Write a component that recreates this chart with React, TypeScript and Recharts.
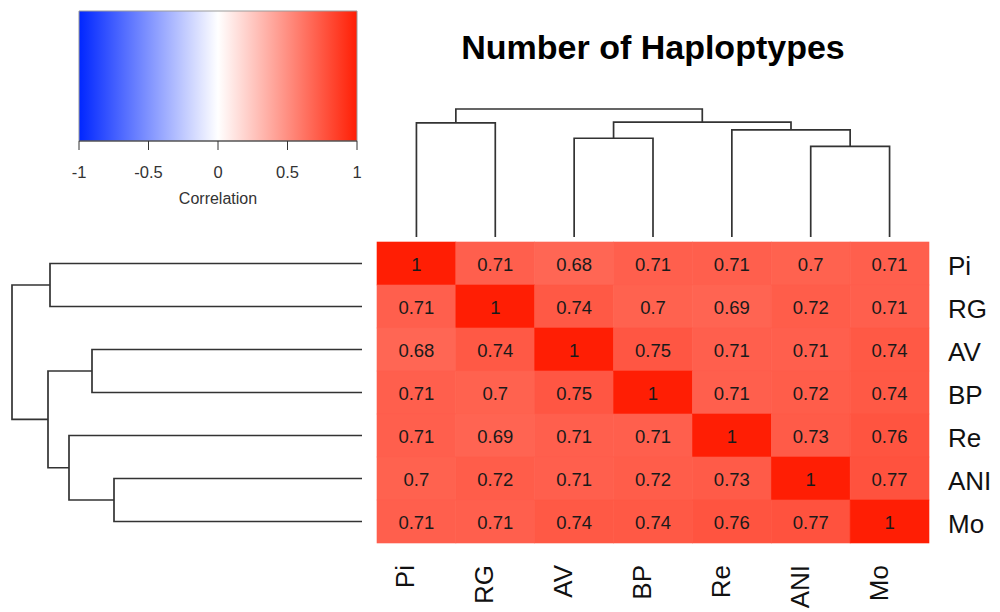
import { ScatterChart, Scatter, XAxis, YAxis, ReferenceArea } from "recharts";

const FONT = '"Liberation Sans", Arial, Helvetica, sans-serif';

const labels = ["Pi", "RG", "AV", "BP", "Re", "ANI", "Mo"];

// correlation matrix, one row per sample (same order as labels)
const corPi = [1, 0.71, 0.68, 0.71, 0.71, 0.7, 0.71];
const corRG = [0.71, 1, 0.74, 0.7, 0.69, 0.72, 0.71];
const corAV = [0.68, 0.74, 1, 0.75, 0.71, 0.71, 0.74];
const corBP = [0.71, 0.7, 0.75, 1, 0.71, 0.72, 0.74];
const corRe = [0.71, 0.69, 0.71, 0.71, 1, 0.73, 0.76];
const corANI = [0.7, 0.72, 0.71, 0.72, 0.73, 1, 0.77];
const corMo = [0.71, 0.71, 0.74, 0.74, 0.76, 0.77, 1];
const corRows = [corPi, corRG, corAV, corBP, corRe, corANI, corMo];

// hclust-style merge table: negative = leaf (1-based), positive = earlier merge step
const mergeSteps = [
  [-1, -2],
  [-3, -4],
  [-6, -7],
  [-5, 3],
  [2, 4],
  [1, 5],
];
const mergeHeights = [3.12, 2.7, 2.48, 2.93, 3.14, 3.5];

const keyTicks = [-1, -0.5, 0, 0.5, 1];

// layout
const W = 1000;
const H = 612;
const HM = { left: 377, right: 929, top: 242, bottom: 543 };
const n = labels.length;
const cellW = (HM.right - HM.left) / n;
const cellH = (HM.bottom - HM.top) / n;
const centers = labels.map((_, i) => i + 0.5);
const maxHeight = Math.max(...mergeHeights);

const LOW = [0, 38, 255];
const MID = [255, 255, 255];
const HIGH = [255, 30, 4];

function corColor(v: number) {
  const end = v < 0 ? LOW : HIGH;
  const t = Math.min(1, Math.abs(v));
  const c = MID.map((m, i) => Math.round(m + (end[i] - m) * t));
  return `rgb(${c.join(",")})`;
}

const cells = corRows.flatMap((row, r) =>
  row.map((v, c) => ({ x: c + 0.5, y: r + 0.5, v }))
);

// tick anchors for the colour key, so the chart has a domain to lay out
const keyAnchors = keyTicks.map((t) => ({ x: t, y: 0 }));

function dendroSegments() {
  const nodes: { pos: number; h: number }[] = [];
  const node = (ref: number) =>
    ref < 0 ? { pos: -ref - 0.5, h: 0 } : nodes[ref - 1];
  return mergeSteps.map(([a, b], i) => {
    const l = node(a);
    const r = node(b);
    const h = mergeHeights[i];
    nodes.push({ pos: (l.pos + r.pos) / 2, h });
    return [
      { pos: l.pos, h: l.h },
      { pos: l.pos, h },
      { pos: r.pos, h },
      { pos: r.pos, h: r.h },
    ];
  });
}

const segments = dendroSegments();

const noDot = () => <g />;
const branch = { stroke: "#333", strokeWidth: 1.7 };

function HeatCell(props: any) {
  const { cx, cy, payload } = props;
  const fill = corColor(payload.v);
  return (
    <g>
      <rect
        x={cx - cellW / 2}
        y={cy - cellH / 2}
        width={cellW}
        height={cellH}
        fill={fill}
        stroke={fill}
        strokeWidth={0.6}
      />
      <text
        x={cx}
        y={cy + 1}
        textAnchor="middle"
        dominantBaseline="central"
        fontSize={18.5}
        fontFamily={FONT}
        fill="#1a1a1a"
      >
        {String(payload.v)}
      </text>
    </g>
  );
}

function ColumnTick(props: any) {
  const { x, y, payload } = props;
  const px = x - 2;
  const py = y + 22;
  return (
    <text
      x={px}
      y={py}
      transform={`rotate(-90, ${px}, ${py})`}
      textAnchor="end"
      fontSize={26}
      fontFamily={FONT}
      fill="#111"
    >
      {labels[Math.floor(payload.value)]}
    </text>
  );
}

function RowTick(props: any) {
  const { x, y, payload } = props;
  return (
    <text
      x={x + 19}
      y={y + 2}
      dominantBaseline="central"
      fontSize={26}
      fontFamily={FONT}
      fill="#111"
    >
      {labels[Math.floor(payload.value)]}
    </text>
  );
}

function ColorKey() {
  return (
    <ScatterChart
      width={400}
      height={230}
      margin={{ top: 11, left: 79, right: 43, bottom: 26 }}
    >
      <defs>
        <linearGradient id="corKey" x1="0" y1="0" x2="1" y2="0">
          <stop offset="0%" stopColor={corColor(-1)} />
          <stop offset="50%" stopColor={corColor(0)} />
          <stop offset="100%" stopColor={corColor(1)} />
        </linearGradient>
      </defs>
      <XAxis
        type="number"
        dataKey="x"
        domain={[-1, 1]}
        ticks={keyTicks}
        interval={0}
        height={63}
        tickSize={9}
        tickMargin={16}
        stroke="#333"
        tick={{ fontSize: 16.5, fill: "#333", fontFamily: FONT }}
        label={{
          value: "Correlation",
          position: "insideBottom",
          offset: 0,
          fontSize: 16,
          fill: "#333",
          fontFamily: FONT,
        }}
      />
      <YAxis type="number" dataKey="y" domain={[0, 1]} hide />
      <ReferenceArea
        x1={-1}
        x2={1}
        y1={0}
        y2={1}
        fill="url(#corKey)"
        fillOpacity={1}
        stroke="#999"
        strokeWidth={1}
        ifOverflow="visible"
      />
      <Scatter
        data={keyAnchors}
        shape={noDot}
        legendType="none"
        isAnimationActive={false}
      />
    </ScatterChart>
  );
}

function ColumnDendrogram() {
  return (
    <ScatterChart
      width={W}
      height={250}
      margin={{ top: 109, left: HM.left, right: W - HM.right, bottom: 13 }}
    >
      <XAxis type="number" dataKey="x" domain={[0, n]} hide />
      <YAxis type="number" dataKey="y" domain={[0, maxHeight]} hide />
      {segments.map((seg, i) => (
        <Scatter
          key={i}
          data={seg.map((p) => ({ x: p.pos, y: p.h }))}
          line={branch}
          lineType="joint"
          shape={noDot}
          legendType="none"
          isAnimationActive={false}
        />
      ))}
    </ScatterChart>
  );
}

function RowDendrogram() {
  return (
    <ScatterChart
      width={380}
      height={H}
      margin={{ top: HM.top, left: 12, right: 18, bottom: H - HM.bottom }}
    >
      <XAxis type="number" dataKey="x" domain={[0, maxHeight]} reversed hide />
      <YAxis type="number" dataKey="y" domain={[0, n]} reversed hide />
      {segments.map((seg, i) => (
        <Scatter
          key={i}
          data={seg.map((p) => ({ x: p.h, y: p.pos }))}
          line={branch}
          lineType="joint"
          shape={noDot}
          legendType="none"
          isAnimationActive={false}
        />
      ))}
    </ScatterChart>
  );
}

function Heatmap() {
  return (
    <ScatterChart
      width={W}
      height={H}
      margin={{ top: HM.top, left: HM.left, right: 0, bottom: 0 }}
    >
      <XAxis
        type="number"
        dataKey="x"
        domain={[0, n]}
        ticks={centers}
        interval={0}
        height={H - HM.bottom}
        tickSize={0}
        tickMargin={0}
        axisLine={false}
        tickLine={false}
        tick={<ColumnTick />}
      />
      <YAxis
        type="number"
        dataKey="y"
        orientation="right"
        reversed
        domain={[0, n]}
        ticks={centers}
        interval={0}
        width={W - HM.right}
        tickSize={0}
        tickMargin={0}
        axisLine={false}
        tickLine={false}
        tick={<RowTick />}
      />
      <Scatter data={cells} shape={HeatCell} isAnimationActive={false} />
    </ScatterChart>
  );
}

const layer: React.CSSProperties = { position: "absolute", left: 0, top: 0 };

export default function App() {
  return (
    <div
      style={{
        position: "absolute",
        left: 0,
        top: 0,
        width: W,
        height: H,
        background: "#fff",
        fontFamily: FONT,
        overflow: "hidden",
      }}
    >
      <div style={layer}>
        <Heatmap />
      </div>
      <div style={layer}>
        <ColumnDendrogram />
      </div>
      <div style={layer}>
        <RowDendrogram />
      </div>
      <div style={layer}>
        <ColorKey />
      </div>
      <div
        style={{
          position: "absolute",
          left: 453,
          top: 30,
          width: 400,
          textAlign: "center",
          fontSize: 34,
          lineHeight: 1,
          fontWeight: "bold",
          color: "#000",
        }}
      >
        Number of Haploptypes
      </div>
    </div>
  );
}
